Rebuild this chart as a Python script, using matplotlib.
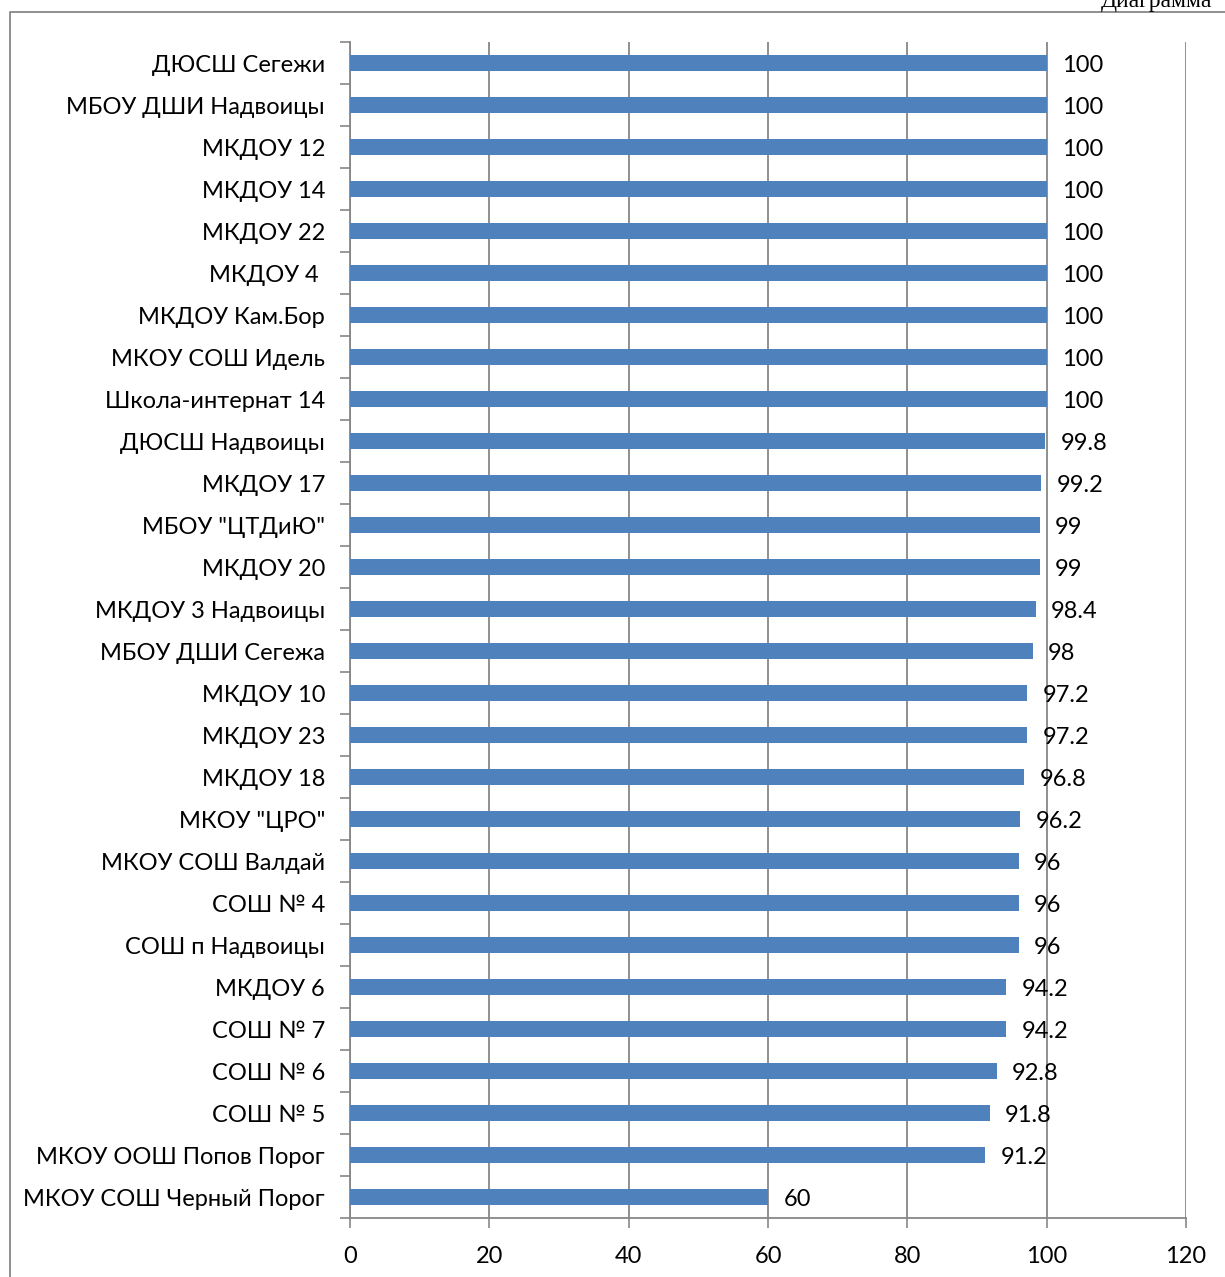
import matplotlib
matplotlib.use("Agg")
import matplotlib.pyplot as plt
from matplotlib.lines import Line2D

categories = ["ДЮСШ Сегежи", "МБОУ ДШИ Надвоицы", "МКДОУ 12", "МКДОУ 14", "МКДОУ 22",
              "МКДОУ 4 ", "МКДОУ Кам.Бор", "МКОУ СОШ Идель", "Школа-интернат 14",
              "ДЮСШ Надвоицы", "МКДОУ 17", "МБОУ \"ЦТДиЮ\"", "МКДОУ 20", "МКДОУ 3 Надвоицы",
              "МБОУ ДШИ Сегежа", "МКДОУ 10", "МКДОУ 23", "МКДОУ 18", "МКОУ \"ЦРО\"",
              "МКОУ СОШ Валдай", "СОШ № 4", "СОШ п Надвоицы", "МКДОУ 6", "СОШ № 7",
              "СОШ № 6", "СОШ № 5", "МКОУ ООШ Попов Порог", "МКОУ СОШ Черный Порог"]
values = [100, 100, 100, 100, 100, 100, 100, 100, 100, 99.8, 99.2, 99, 99, 98.4, 98,
          97.2, 97.2, 96.8, 96.2, 96, 96, 96, 94.2, 94.2, 92.8, 91.8, 91.2, 60]
value_labels = ["100"] * 9 + ["99.8", "99.2", "99", "99", "98.4", "98", "97.2", "97.2",
                               "96.8", "96.2", "96", "96", "96", "94.2", "94.2", "92.8",
                               "91.8", "91.2", "60"]
xticks = [0, 20, 40, 60, 80, 100, 120]

W, H = 1225, 1277
plt.rcParams['font.family'] = ['Lato', 'DejaVu Sans']
fig = plt.figure(figsize=(W / 100, H / 100), dpi=100)
ax = fig.add_axes([350 / W, 1 - 1218 / H, (1186 - 350) / W, (1218 - 42) / H])

grey = '#878787'
ypos = list(range(len(categories)))
ax.barh(ypos, values, height=0.4, color='#4F81BD', zorder=3)
for y, v, lab in zip(ypos, values, value_labels):
    ax.annotate(lab, (v, y), xytext=(11, -2), textcoords='offset points',
                ha='left', va='center', fontsize=17, color='black', zorder=4)

ax.set_xlim(0, 120)
ax.set_ylim(len(categories) - 0.5, -0.5)
ax.set_xticks(xticks)
ax.set_xticklabels([str(t) for t in xticks])
ax.set_yticks(ypos)
ax.set_yticklabels(categories)
ax.set_yticks([i - 0.5 for i in range(len(categories) + 1)], minor=True)
ax.tick_params(axis='y', which='major', length=0, pad=18, labelsize=17)
ax.tick_params(axis='y', which='minor', length=7, width=1.2, color=grey, direction='out')
ax.tick_params(axis='x', length=7, width=1.2, color=grey, direction='out', pad=13, labelsize=17)
ax.grid(axis='x', color=grey, linewidth=1.3, zorder=0)
for s in ['top', 'right']:
    ax.spines[s].set_visible(False)
for s in ['left', 'bottom']:
    ax.spines[s].set_color(grey)
    ax.spines[s].set_linewidth(1.3)

# outer frame
fig.add_artist(Line2D([10 / W, 10 / W, 1.0], [0.0, 1 - 12 / H, 1 - 12 / H],
                      transform=fig.transFigure, color=grey, linewidth=1.3))
fig.text(1212 / W, 1 - 7 / H, "Диаграмма", ha='right', va='baseline',
         family=['Liberation Serif'], fontsize=17)

fig.savefig("out.png", dpi=100)
